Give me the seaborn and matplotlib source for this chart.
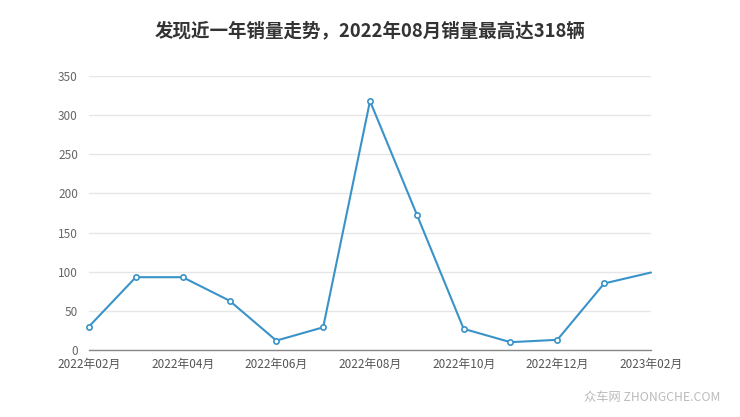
import matplotlib

matplotlib.use("Agg")

import matplotlib.pyplot as plt
import pandas as pd
import seaborn as sns

months = ["2022年02月", "2022年03月", "2022年04月", "2022年05月", "2022年06月",
          "2022年07月", "2022年08月", "2022年09月", "2022年10月", "2022年11月",
          "2022年12月", "2023年01月", "2023年02月"]
sales = [30, 93, 93, 63, 12, 29, 318, 173, 27, 10, 13, 85, 99]
y_ticks = [0, 50, 100, 150, 200, 250, 300, 350]

title = "发现近一年销量走势，2022年08月销量最高达318辆"
watermark = "众车网 ZHONGCHE.COM"

sns.set_theme(style="white")
plt.rcParams["font.family"] = ["Noto Sans CJK SC", "DejaVu Sans"]

df = pd.DataFrame({"idx": range(len(months)), "month": months, "sales": sales})

fig = plt.figure(figsize=(7.4, 4.17), dpi=100)
ax = fig.add_axes([89 / 740, 1 - 350 / 417, (651 - 89) / 740, (350 - 76) / 417])

line_color = "#3a93c8"
sns.lineplot(data=df, x="idx", y="sales", ax=ax, color=line_color, linewidth=1.5,
             marker="o", markersize=3.8, markerfacecolor="white",
             markeredgecolor=line_color, markeredgewidth=1.2,
             markevery=list(range(len(months) - 1)), clip_on=False)

ax.set_xlim(0, len(months) - 1)
ax.set_ylim(0, 350)
ax.set_yticks(y_ticks)
ax.set_yticklabels([str(v) for v in y_ticks])
ax.set_xticks(df["idx"][::2])
ax.set_xticklabels(df["month"][::2])
ax.set_xlabel("")
ax.set_ylabel("")

ax.yaxis.grid(True, color="#e6e6e6", linewidth=1)
ax.set_axisbelow(True)
for side in ["top", "right", "left"]:
    ax.spines[side].set_visible(False)
ax.spines["bottom"].set_color("#888888")
ax.spines["bottom"].set_linewidth(1)

ax.tick_params(axis="x", colors="#888888", length=5, width=1, direction="out",
               labelsize=8.5, labelcolor="#555555", pad=1)
ax.tick_params(axis="y", length=0, labelsize=8.5, labelcolor="#666666", pad=8)

fig.text(370 / 740, 1 - 31 / 417, title, ha="center", va="center",
         fontsize=13.3, fontweight="bold", color="#333333")
fig.text(720 / 740, 1 - 398 / 417, watermark, ha="right", va="center",
         fontsize=8.8, color="#bbbbbb")

fig.savefig("out.png", dpi=100)
